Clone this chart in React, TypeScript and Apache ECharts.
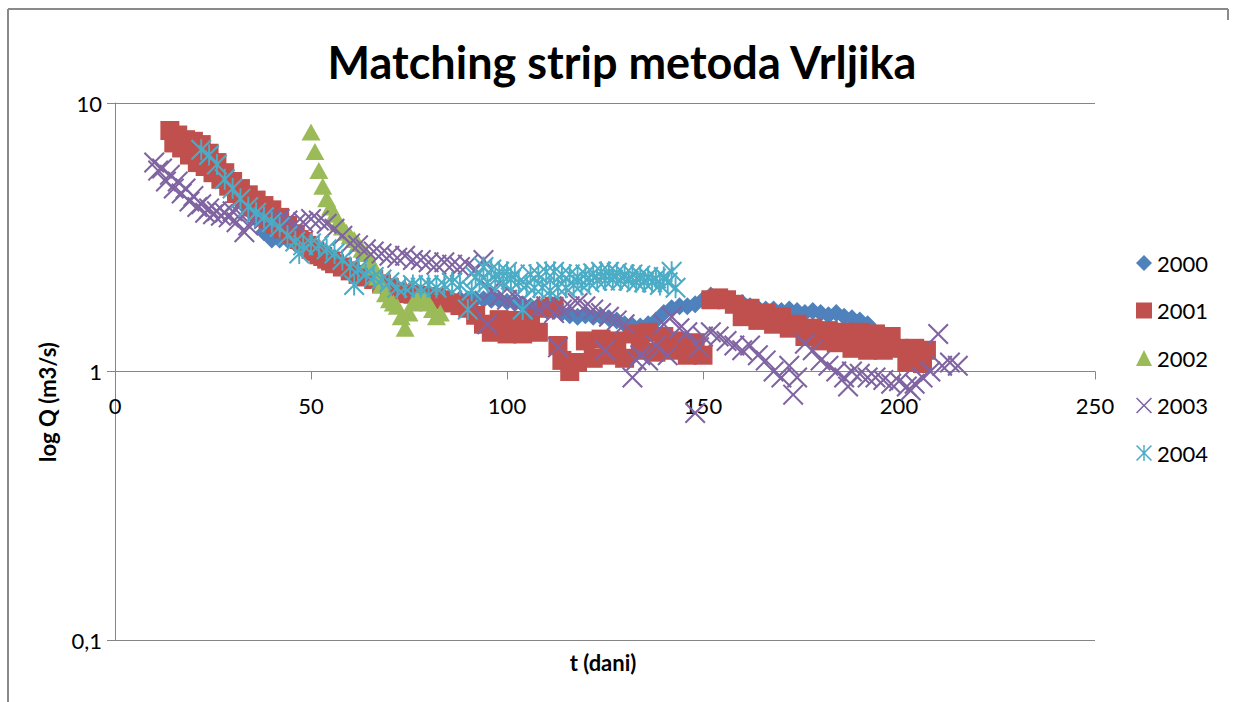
import React, { useEffect, useRef } from "react";
import * as echarts from "echarts";

const titleText = "Matching strip metoda Vrljika";
const xTitle = "t (dani)";
const yTitle = "log Q (m3/s)";
const seriesNames = ["2000", "2001", "2002", "2003", "2004"];
const seriesColors = ["#4F81BD", "#C0504D", "#9BBB59", "#8064A2", "#4BACC6"];

const s2000: [number, number][] = [[26,5.7],[28,5.1],[30,4.7],[32,4.3],[34,4.0],[36,3.7],[38,3.3],[40,3.1],[42,3.1],[44,3.1],[46,3.0],[48,2.9],[50,2.8],[52,2.7],[54,2.6],[56,2.52],[58,2.45],[60,2.38],[62,2.3],[64,2.25],[66,2.2],[68,2.12],[70,2.06],[72,2.0],[74,1.97],[76,1.95],[78,1.93],[80,1.92],[82,1.9],[84,1.88],[86,1.86],[88,1.86],[90,1.86],[92,1.86],[94,1.86],[96,1.85],[98,1.85],[100,1.82],[102,1.8],[104,1.78],[106,1.75],[108,1.72],[110,1.7],[112,1.68],[114,1.65],[116,1.62],[118,1.6],[120,1.62],[122,1.6],[124,1.6],[126,1.58],[128,1.55],[130,1.5],[132,1.48],[134,1.47],[136,1.5],[138,1.55],[140,1.65],[142,1.72],[144,1.75],[146,1.75],[148,1.78],[150,1.85],[152,1.92],[154,1.88],[156,1.82],[158,1.78],[160,1.8],[162,1.75],[164,1.72],[166,1.7],[168,1.7],[170,1.68],[172,1.7],[174,1.68],[176,1.65],[178,1.68],[180,1.65],[182,1.62],[184,1.65],[186,1.6],[188,1.58],[190,1.55],[192,1.5]];

const s2001: [number, number][] = [[14,7.9],[15,7.1],[16,7.6],[17,6.8],[18,7.3],[19,6.4],[20,7.2],[21,6.0],[22,7.0],[23,5.8],[24,6.5],[25,5.5],[26,6.0],[27,5.2],[28,5.5],[29,4.9],[30,5.1],[31,4.6],[32,4.8],[33,4.4],[34,4.55],[35,4.1],[36,4.35],[37,3.9],[38,4.15],[39,3.7],[40,4.0],[41,3.55],[42,3.75],[43,3.4],[44,3.5],[45,3.25],[46,3.25],[47,3.1],[48,3.05],[49,2.95],[50,2.85],[51,2.8],[52,2.72],[53,2.68],[54,2.62],[55,2.58],[56,2.52],[58,2.45],[60,2.37],[62,2.3],[64,2.25],[66,2.2],[68,2.12],[70,2.05],[72,1.98],[74,1.95],[76,1.94],[78,1.92],[80,1.9],[82,1.89],[84,1.85],[86,1.8],[88,1.76],[90,1.72],[92,1.62],[94,1.5],[96,1.4],[98,1.56],[100,1.38],[102,1.55],[104,1.38],[106,1.58],[108,1.4],[110,1.72],[112,1.75],[113,1.25],[114,1.1],[116,1.0],[118,1.08],[120,1.3],[122,1.12],[124,1.32],[126,1.15],[128,1.3],[130,1.12],[132,1.38],[134,1.2],[136,1.4],[138,1.18],[140,1.35],[142,1.2],[144,1.3],[146,1.15],[148,1.28],[150,1.15],[152,1.85],[154,1.88],[156,1.85],[158,1.78],[160,1.6],[162,1.72],[164,1.55],[166,1.65],[168,1.5],[170,1.6],[172,1.45],[174,1.5],[176,1.35],[178,1.45],[180,1.3],[182,1.42],[184,1.28],[186,1.4],[188,1.22],[190,1.4],[192,1.2],[194,1.38],[196,1.2],[198,1.35],[200,1.22],[202,1.08],[204,1.22],[206,1.07],[207,1.2]];

const s2002: [number, number][] = [[50,7.8],[51,6.6],[52,5.6],[53,4.9],[54,4.4],[55,4.1],[56,3.85],[57,3.6],[58,3.45],[59,3.3],[60,3.2],[61,3.1],[62,3.0],[63,2.85],[64,2.75],[65,2.6],[66,2.45],[67,2.25],[68,2.1],[69,1.95],[70,1.85],[71,1.8],[72,1.75],[73,1.6],[74,1.45],[75,1.65],[76,1.8],[77,1.85],[78,1.9],[79,1.85],[80,1.8],[81,1.7],[82,1.6],[83,1.65]];

const s2003: [number, number][] = [[10,6.0],[11,5.6],[12,5.7],[13,5.1],[14,5.4],[15,4.8],[16,5.1],[17,4.6],[18,4.8],[19,4.3],[20,4.5],[21,4.1],[22,4.2],[23,3.9],[24,4.05],[25,3.85],[26,3.95],[27,3.8],[28,3.9],[29,3.75],[30,3.95],[31,3.6],[32,3.85],[33,3.3],[34,3.5],[36,3.75],[38,3.7],[40,3.6],[42,3.7],[44,3.65],[46,3.55],[48,3.6],[50,3.7],[52,3.65],[54,3.55],[56,3.4],[58,3.2],[60,3.0],[62,2.95],[64,2.85],[66,2.8],[68,2.75],[70,2.7],[72,2.65],[74,2.7],[76,2.6],[78,2.6],[80,2.55],[82,2.5],[84,2.55],[86,2.5],[88,2.45],[90,2.5],[91,1.76],[92,2.4],[94,2.6],[95,1.5],[96,2.0],[98,1.9],[100,1.85],[102,1.9],[104,1.85],[106,1.75],[108,1.7],[110,1.75],[112,1.65],[113,1.23],[114,1.7],[116,1.75],[118,1.8],[120,1.75],[122,1.7],[124,1.65],[125,1.2],[126,1.6],[128,1.55],[130,1.5],[132,0.95],[133,1.1],[134,1.15],[136,1.1],[138,1.25],[140,1.5],[141,1.15],[142,1.6],[144,1.45],[146,1.4],[148,0.7],[149,1.23],[150,1.35],[152,1.4],[154,1.35],[156,1.3],[158,1.25],[160,1.2],[162,1.25],[164,1.15],[166,1.1],[168,1.0],[170,0.95],[172,1.05],[173,0.82],[174,0.95],[176,1.27],[178,1.2],[180,1.1],[182,1.05],[184,1.0],[186,0.95],[187,0.88],[188,1.0],[190,0.98],[192,0.95],[194,0.95],[196,0.93],[198,0.9],[200,0.92],[202,0.88],[203,0.85],[204,0.9],[206,0.95],[208,1.0],[210,1.38],[211,1.05],[213,1.08],[215,1.05]];

const s2004: [number, number][] = [[22,6.7],[24,6.4],[26,5.9],[28,5.2],[30,4.8],[32,4.4],[34,4.1],[36,3.9],[38,3.75],[40,3.6],[42,3.45],[44,3.2],[46,3.05],[47,2.75],[48,2.95],[50,3.0],[52,2.95],[54,2.85],[56,2.75],[58,2.6],[60,2.45],[61,2.1],[62,2.4],[64,2.3],[66,2.25],[68,2.2],[70,2.15],[72,2.05],[74,2.05],[76,2.1],[78,2.05],[80,2.1],[82,2.05],[84,2.1],[86,2.15],[88,2.1],[90,1.7],[91,2.0],[92,2.25],[93,2.15],[94,2.45],[95,2.15],[96,2.4],[97,2.2],[98,2.35],[99,2.15],[100,2.35],[101,2.2],[102,2.3],[103,2.15],[104,1.7],[105,2.1],[106,2.3],[107,2.05],[108,2.3],[109,2.05],[110,2.35],[111,2.0],[112,2.35],[113,2.05],[114,2.3],[115,2.05],[116,2.3],[117,2.1],[118,2.25],[119,2.1],[120,2.3],[121,2.15],[122,2.32],[123,2.18],[124,2.35],[125,2.18],[126,2.35],[127,2.2],[128,2.33],[129,2.18],[130,2.3],[131,2.18],[132,2.3],[133,2.15],[134,2.28],[135,2.15],[136,2.25],[137,2.15],[138,2.22],[139,2.1],[140,2.25],[141,2.15],[142,2.35],[143,2.05]];

const seriesData = [s2000, s2001, s2002, s2003, s2004];

const xPath = "path://M0,7L7,0L50,43L93,0L100,7L57,50L100,93L93,100L50,57L7,100L0,93L43,50Z";
const starPath = "path://M0,7L7,0L50,43L93,0L100,7L57,50L100,93L93,100L50,57L7,100L0,93L43,50Z M45.5,0L54.5,0L54.5,100L45.5,100Z";
const seriesSymbols = ["diamond", "rect", "triangle", xPath, starPath];
const seriesSizes: (number | number[])[] = [18, 19, [19, 17], 21, 21];

const FONT = "Lato, 'Liberation Sans', sans-serif";

export default function App() {
  const ref = useRef<HTMLDivElement>(null);
  useEffect(() => {
    if (!ref.current) return;
    const chart = echarts.init(ref.current, undefined, { renderer: "svg" });
    const gray = "#868686";
    chart.setOption({
      animation: false,
      backgroundColor: "#fff",
      textStyle: { fontFamily: FONT },
      grid: { left: 115, right: 140, top: 103, bottom: 62 },
      xAxis: {
        type: "value",
        min: 0,
        max: 250,
        interval: 50,
        offset: -268.5,
        axisLine: { show: true, lineStyle: { color: gray, width: 1 } },
        axisTick: { show: true, length: 8, lineStyle: { color: gray } },
        splitLine: { show: false },
        axisLabel: { color: "#000", fontSize: 22, margin: 23, fontFamily: FONT },
      },
      yAxis: {
        type: "log",
        logBase: 10,
        min: 0.1,
        max: 10,
        axisLine: { show: true, lineStyle: { color: gray, width: 1 } },
        axisTick: { show: true, length: 8, lineStyle: { color: gray } },
        splitLine: { show: true, lineStyle: { color: gray, width: 1 } },
        minorTick: { show: false },
        axisLabel: {
          color: "#000",
          fontSize: 22,
          margin: 13,
          fontFamily: FONT,
          formatter: (v: number) => String(Number(v.toPrecision(6))).replace(".", ","),
        },
      },
      legend: {
        orient: "vertical",
        left: 1131,
        top: 246,
        itemWidth: 16,
        itemHeight: 16,
        itemGap: 23.5,
        textStyle: { fontSize: 22, lineHeight: 24, color: "#000", fontFamily: FONT },
        data: seriesNames.map((name, i) => ({ name, itemStyle: { color: seriesColors[i] } })),
      },
      graphic: [
        { type: "line", shape: { x1: 8, y1: 9, x2: 1228, y2: 9 }, style: { stroke: "#8a8a8a", lineWidth: 2 } },
        { type: "line", shape: { x1: 8, y1: 9, x2: 8, y2: 702 }, style: { stroke: "#8a8a8a", lineWidth: 2 } },
        { type: "line", shape: { x1: 1228, y1: 9, x2: 1228, y2: 20 }, style: { stroke: "#8a8a8a", lineWidth: 2 } },
        {
          type: "text",
          x: 622,
          y: 62,
          style: { text: titleText, fontSize: 45, fontWeight: "bold", fontFamily: FONT, fill: "#000", textAlign: "center", textVerticalAlign: "middle" },
        },
        {
          type: "text",
          x: 603,
          y: 662,
          style: { text: xTitle, fontSize: 22, fontWeight: "bold", fontFamily: FONT, fill: "#000", textAlign: "center", textVerticalAlign: "middle" },
        },
        {
          type: "text",
          x: 47,
          y: 402,
          rotation: Math.PI / 2,
          style: { text: yTitle, fontSize: 22, fontWeight: "bold", fontFamily: FONT, fill: "#000", textAlign: "center", textVerticalAlign: "middle" },
        },
      ],
      series: seriesNames.map((name, i) => ({
        name,
        type: "scatter",
        data: seriesData[i],
        symbol: seriesSymbols[i],
        symbolSize: seriesSizes[i],
        itemStyle: { color: seriesColors[i], opacity: 1 },
        emphasis: { disabled: true },
      })),
    });
    return () => chart.dispose();
  }, []);
  return <div ref={ref} style={{ position: "fixed", left: 0, top: 0, width: 1235, height: 702 }} />;
}
